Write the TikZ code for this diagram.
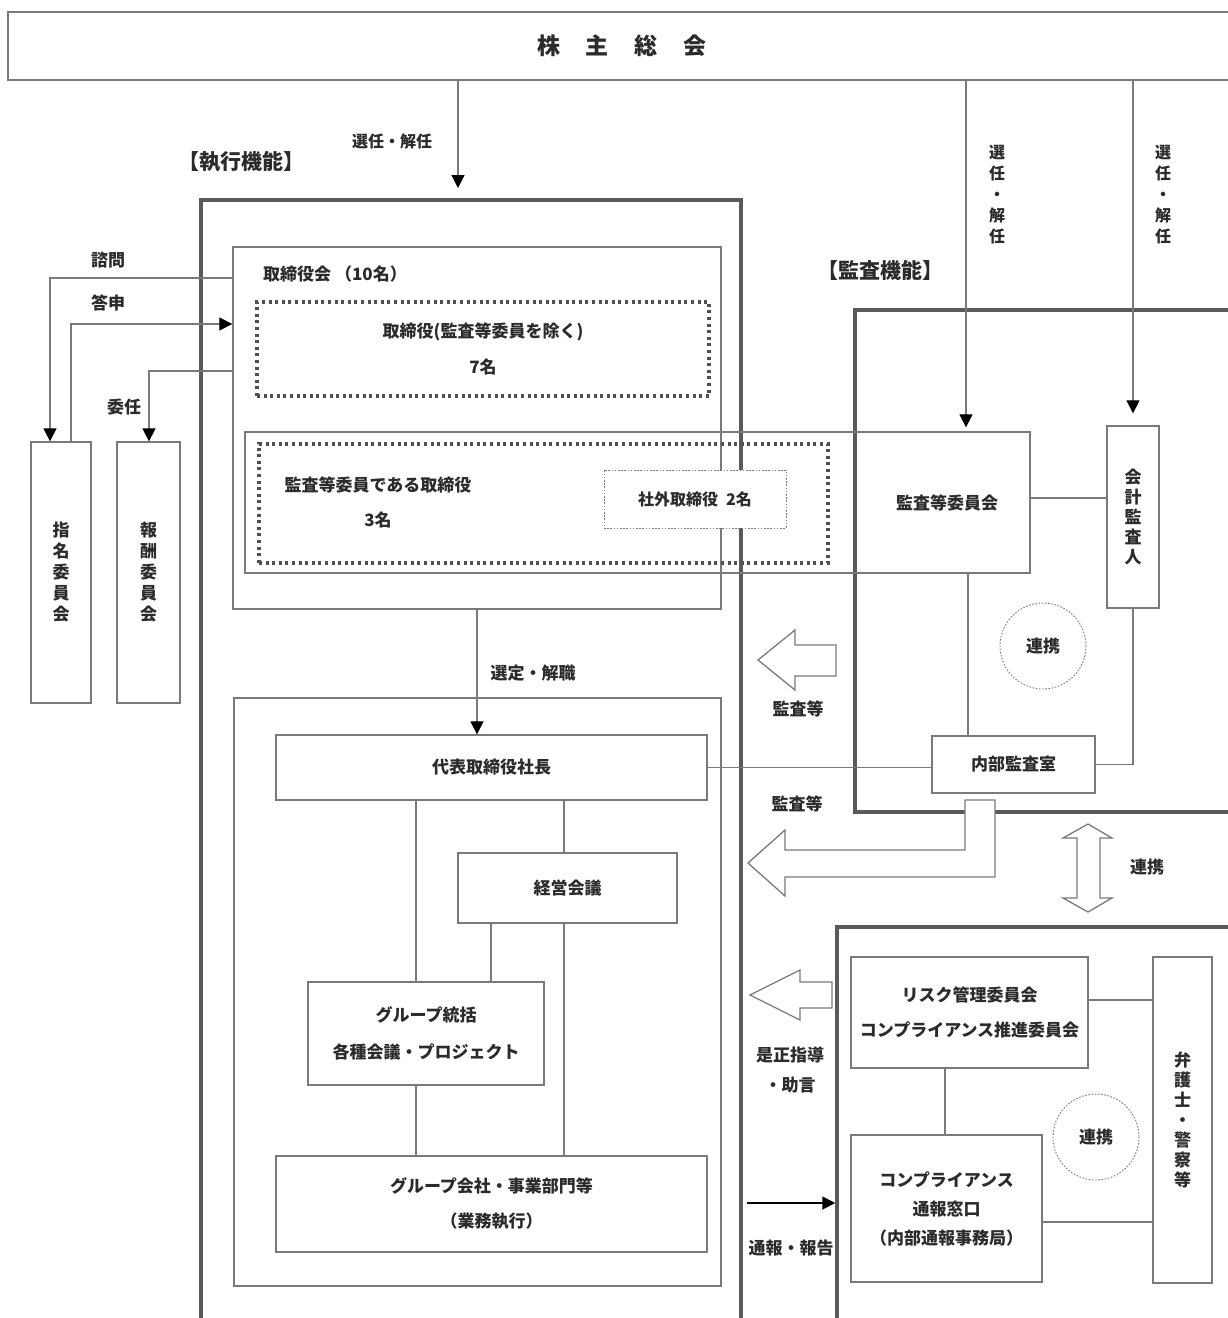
\documentclass[tikz,border=0pt]{standalone}
\usepackage{fontspec}
\setmainfont{Noto Sans CJK JP}
\usetikzlibrary{arrows.meta}
\definecolor{ln}{HTML}{7A7A7A}
\definecolor{frm}{HTML}{5A5A5A}
\definecolor{dt}{HTML}{505050}
\definecolor{tx}{HTML}{2B2B2B}
\newcommand\fs[2]{\fontsize{#1}{#2}\selectfont\bfseries}
\begin{document}
\begin{tikzpicture}[x=1pt,y=-1pt,
 box/.style={draw=ln, line width=1.3pt, inner sep=0pt, text=tx, align=center, font=\fs{17}{36}},
 frame/.style={draw=frm, line width=3.5pt, inner sep=0pt},
 dotbox/.style={draw=dt, line width=3.2pt, dash pattern=on 3pt off 3.6pt, inner sep=0pt},
 thindot/.style={draw=ln, line width=0.9pt, dash pattern=on 1.6pt off 1.6pt},
 lbl/.style={inner sep=0pt, text=tx, align=center, font=\fs{17}{36}},
 vlbl/.style={inner sep=0pt, text=tx, align=center, font=\fs{16}{21}},
 con/.style={draw=ln, line width=1.2pt},
 arr/.style={con, -{Triangle[width=13pt,length=13pt,color=black]}},
 barr/.style={draw=ln, line width=1.3pt, fill=white, line join=miter},
]
\useasboundingbox (0,0) rectangle (1228,1318);
\clip (0,0) rectangle (1228,1318);

% frames
\node[frame, minimum width=540pt, minimum height=1140pt] (exec) at (471,770) {};
\node[frame, minimum width=385pt, minimum height=502pt] (audit) at (1047.5,561) {};
\node[frame, minimum width=403pt, minimum height=413pt] (comp) at (1038.5,1133.5) {};

% top
\node[box, line width=1.8pt, minimum width=1228pt, minimum height=68pt, font=\fs{23}{30}] (kabu) at (622,46) {株\hspace{26pt}主\hspace{26pt}総\hspace{26pt}会};
\node[lbl, font=\fs{21}{26}] (lshikko) at (241,162) {【執行機能】};
\node[lbl, font=\fs{16}{20}] (lsen1) at (392,141) {選任・解任};
\node[lbl, font=\fs{21}{26}] (lkansa) at (880,270) {【監査機能】};
\node[vlbl] (lsen2) at (997,195) {選\\任\\・\\解\\任};
\node[vlbl] (lsen3) at (1163,195) {選\\任\\・\\解\\任};

% board
\node[box, minimum width=488pt, minimum height=362pt] (tori) at (477,428) {};
\node[lbl, anchor=west] (ltori) at (263,274) {取締役会 （10名）};
\node[dotbox, text=tx, align=center, font=\fs{17}{36}, minimum width=452pt, minimum height=94pt] (d1) at (483,349) {取締役(監査等委員を除く)\\7名};
\node[box, minimum width=785pt, minimum height=141pt] (kansa) at (637.5,502.5) {};
\node[dotbox, minimum width=569pt, minimum height=119pt] (d2) at (543.5,503.5) {};
\node[lbl, font=\fs{17}{35}] (lkt) at (378,502) {監査等委員である取締役\\3名};
\node[lbl] (lkansakai) at (947,503) {監査等委員会};
\node[thindot, fill=white, lbl, font=\fs{16}{20}, minimum width=182pt, minimum height=58pt] (shagai) at (695,499) {社外取締役\hspace{8pt}2名};

% committees
\node[box, minimum width=60pt, minimum height=261pt, font=\fs{17}{21}] (shimei) at (61,572.5) {指\\名\\委\\員\\会};
\node[box, minimum width=63pt, minimum height=261pt, font=\fs{17}{21}] (hoshu) at (148.5,572.5) {報\\酬\\委\\員\\会};
\node[lbl] (lshimon) at (108,260) {諮問};
\node[lbl] (ltoshin) at (108,303) {答申};
\node[lbl] (linin) at (124,407) {委任};
\coordinate (a1) at (50,278);
\coordinate (b1) at (71,324);
\coordinate (c1) at (149,371);
\draw[arr] (tori.west |- a1) -| (shimei.north -| a1);
\draw[arr] (shimei.north -| b1) |- (tori.west |- b1);
\draw[arr] (tori.west |- c1) -| (hoshu.north -| c1);

% exec lower
\node[box, minimum width=487pt, minimum height=588pt] (lower) at (477.5,992) {};
\node[box, minimum width=431pt, minimum height=65pt] (shacho) at (491.5,767.5) {代表取締役社長};
\node[box, minimum width=219pt, minimum height=70pt] (keiei) at (567.5,888) {経営会議};
\node[box, minimum width=236pt, minimum height=103pt, font=\fs{17}{37}] (group) at (426,1033.5) {グループ統括\\各種会議・プロジェクト};
\node[box, minimum width=431pt, minimum height=96pt, font=\fs{17}{35}] (gkaisha) at (491.5,1204) {グループ会社・事業部門等\\（業務執行）};
\node[lbl] (lsentei) at (533,673) {選定・解職};
\coordinate (xa) at (416,0);
\coordinate (xb) at (564,0);
\coordinate (xc) at (491,0);
\coordinate (xd) at (477,0);
\draw[arr] (tori.south -| xd) -- (shacho.north -| xd);
\draw[con] (shacho.south -| xa) -- (group.north -| xa);
\draw[con] (shacho.south -| xb) -- (keiei.north -| xb);
\draw[con] (keiei.south -| xc) -- (group.north -| xc);
\draw[con] (keiei.south -| xb) -- (gkaisha.north -| xb);
\draw[con] (group.south -| xa) -- (gkaisha.north -| xa);

% top arrow to exec
\coordinate (t1) at (458,188);
\draw[arr] (kabu.south -| t1) -- (t1);

% audit
\node[box, minimum width=52pt, minimum height=182pt, font=\fs{17}{20}] (kaikei) at (1133,517) {会\\計\\監\\査\\人};
\node[thindot, circle, minimum size=86pt, lbl] (ren1) at (1043,646) {連携};
\node[box, minimum width=163pt, minimum height=57pt] (naibu) at (1013.5,764.5) {内部監査室};
\coordinate (s1) at (966,0);
\coordinate (e1) at (0,498);
\coordinate (x968) at (968,0);
\draw[arr, shorten >=4pt] (kabu.south -| s1) -- (kansa.north -| s1);
\draw[arr, shorten >=12pt] (kabu.south -| kaikei.north) -- (kaikei.north);
\draw[con] (kansa.east |- e1) -- (kaikei.west |- e1);
\draw[con] (kansa.south -| x968) -- (naibu.north -| x968);
\draw[con] (kaikei.south) |- (naibu.east);
\draw[con] (shacho.east) -- (naibu.west |- shacho.east);

% block arrows between
\draw[barr] (836,645) -- (795,645) -- (795,630) -- (758,660) -- (795,690) -- (795,676) -- (836,676) -- cycle;
\node[lbl] (lkansa1) at (798,709) {監査等};
\draw[barr] (965,800) -- (965,850) -- (785,850) -- (785,830) -- (748,863) -- (785,896) -- (785,877) -- (995,877) -- (995,800) -- cycle;
\node[lbl] (lkansa2) at (797,804) {監査等};
\draw[barr] (1077,838) -- (1063,838) -- (1088,824) -- (1112,838) -- (1100,838) -- (1100,898) -- (1112,898) -- (1088,912) -- (1063,898) -- (1077,898) -- cycle;
\node[lbl] (lrenkei) at (1147,867) {連携};

% compliance
\node[box, minimum width=237pt, minimum height=111pt, font=\fs{17}{35}] (risk) at (969.5,1012.5) {リスク管理委員会\\コンプライアンス推進委員会};
\node[box, minimum width=191pt, minimum height=147pt, font=\fs{17}{29}] (tsuho) at (946.5,1208.5) {コンプライアンス\\通報窓口\\（内部通報事務局）};
\node[box, minimum width=59pt, minimum height=326pt, font=\fs{17}{20}] (bengo) at (1182.5,1120) {弁\\護\\士\\・\\警\\察\\等};
\node[thindot, circle, minimum size=86pt, lbl] (ren2) at (1096,1137) {連携};
\coordinate (r1) at (0,1000);
\coordinate (r2) at (945,0);
\coordinate (r3) at (0,1222);
\draw[con] (risk.east |- r1) -- (bengo.west |- r1);
\draw[con] (risk.south -| r2) -- (tsuho.north -| r2);
\draw[con] (tsuho.east |- r3) -- (bengo.west |- r3);
\draw[barr] (832,982) -- (800,982) -- (800,970) -- (750,995) -- (800,1020) -- (800,1008) -- (832,1008) -- cycle;
\node[lbl, font=\fs{17}{30}] (lzesei) at (790,1070) {是正指導\\・助言};
\coordinate (k1) at (747,1203);
\draw[draw=black, line width=1.8pt, -{Triangle[width=13pt,length=13pt]}] (k1) -- (comp.west |- k1);
\node[lbl] (ltsuho) at (791,1248) {通報・報告};
\end{tikzpicture}
\end{document}
